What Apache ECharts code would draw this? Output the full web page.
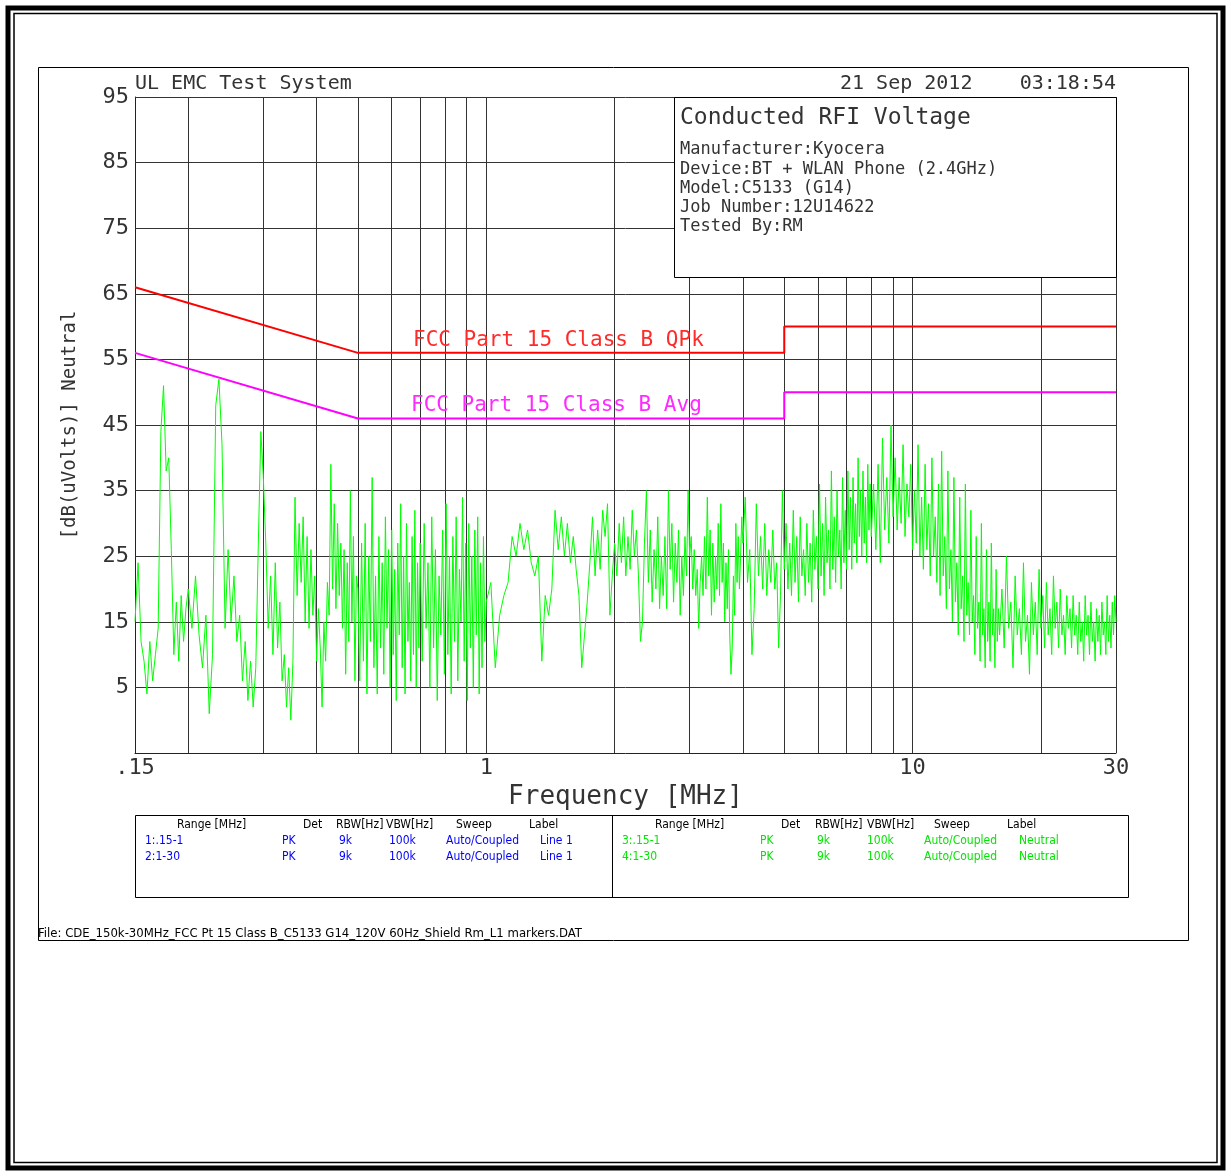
<!DOCTYPE html>
<html><head><meta charset="utf-8">
<script src="https://cdn.jsdelivr.net/npm/echarts@6/dist/echarts.min.js"></script>
<style>html,body{margin:0;padding:0;background:#fff}#chart{width:1231px;height:1176px}</style>
</head><body><div id="chart"></div>
<script>
const freqA = [0.15,0.1525,0.155,0.1575,0.16,0.1625,0.165,0.1675,0.17,0.1725,0.175,0.1775,0.18,0.1825,0.185,0.1875,0.19,0.1925,0.195,0.1975];
const levelA = [15,24,12,9,4,12,6,10,14,44,51,38,40,26,10,18,9,19,12,17];
const freqB = [0.200,0.204,0.208,0.212,0.216,0.220,0.224,0.228,0.232,0.236,0.240,0.244,0.248,0.252,0.256,0.260,0.264,0.268,0.272,0.276,0.280,0.284,0.288,0.292,0.296];
const levelB = [20,14,22,13,8,16,1,10,48,52,42,14,26,15,22,12,16,6,12,3,9,2,8,27,44];
const freqC = [0.300,0.304,0.308,0.312,0.316,0.320,0.324,0.328,0.332,0.336,0.340,0.344,0.348,0.352,0.356,0.360,0.364,0.368,0.372,0.376,
  0.380,0.384,0.388,0.392,0.396,0.400,0.404,0.408,0.412,0.416,0.420,0.424,0.428,0.432,0.436,0.440,0.444,0.448,0.452,0.456,
  0.460,0.464,0.468,0.472,0.476,0.480,0.484,0.488,0.492,0.496];
const levelC = [37,27,14,22,10,24,11,18,6,10, 2,8,0,9,34,19,30,21,31,15, 28,14,26,16,22,9,17,11,2,15, 9,21,16,39,20,33,17,30,19,27, 14,26,7,24,12,35,15,28,6,22];
const freqD = [0.500,0.505,0.510,0.515,0.520,0.525,0.530,0.535,0.540,0.545,0.550,0.555,0.560,0.565,0.570,0.575,0.580,0.585,0.590,0.595,
  0.600,0.605,0.610,0.615,0.620,0.625,0.630,0.635,0.640,0.645,0.650,0.655,0.660,0.665,0.670,0.675,0.680,0.685,0.690,0.695];
const levelD = [20,6,27,9,30,4,25,12,37,8, 22,4,28,11,24,7,31,14,26,5, 29,10,23,3,27,13,33,8,25,4, 30,12,21,6,28,10,32,5,24,11];
const freqE = [0.7000,0.7075,0.7150,0.7225,0.7300,0.7375,0.7450,0.7525,0.7600,0.7675,0.7750,0.7825,0.7900,0.7975,0.8050,0.8125,0.8200,0.8275,0.8350,0.8425,
  0.8500,0.8575,0.8650,0.8725,0.8800,0.8875,0.8950,0.9025,0.9100,0.9175,0.9250,0.9325,0.9400,0.9475,0.9550,0.9625,0.9700,0.9775,0.9850,0.9925];
const levelE = [27,9,30,14,24,5,31,11,26,3, 22,13,29,7,33,10,25,4,28,12, 31,6,23,15,34,9,27,3,30,11, 25,5,29,13,31,4,24,8,28,12];
const freqF = [1.000,1.025,1.050,1.075,1.100,1.125,1.150,1.175,1.200,1.225,1.250,1.275,1.300,1.325,1.350,1.375,1.400,1.425,1.450,1.475,
  1.500,1.525,1.550,1.575,1.600,1.625,1.650,1.675,1.700,1.725,1.750,1.775,1.800,1.825,1.850,1.875,1.900,1.925,1.950,1.975];
const levelF = [18,21,8,16,19,21,28,25,30,26, 29,24,22,25,9,19,16,20,32,26, 31,25,30,24,28,23,19,8,13,18, 24,31,22,29,23,32,28,33,16,22];
const freqG = [2.000,2.025,2.050,2.075,2.100,2.125,2.150,2.175,2.200,2.225,2.250,2.275,2.300,2.325,2.350,2.375,2.400,2.425,2.450,2.475,
  2.500,2.525,2.550,2.575,2.600,2.625,2.650,2.675,2.700,2.725,2.750,2.775,2.800,2.825,2.850,2.875,2.900,2.925,2.950,2.975,
  3.000,3.025,3.050,3.075,3.100,3.125,3.150,3.175,3.200,3.225,3.250,3.275,3.300,3.325,3.350,3.375,3.400,3.425,3.450,3.475,
  3.500,3.525,3.550,3.575,3.600,3.625,3.650,3.675,3.700,3.725,3.750,3.775,3.800,3.825,3.850,3.875,3.900,3.925,3.950,3.975];
const levelG = [27,22,30,24,31,22,28,23,32,25, 29,22,12,15,27,35,21,29,18,26, 20,31,17,25,19,28,17,35,23,30, 18,27,21,29,16,25,19,28,22,35,
  25,28,20,26,19,23,14,21,25,19, 28,20,34,22,29,16,27,18,25,20, 30,19,33,21,27,15,24,17,26,13, 7,11,22,16,30,21,28,20,25,31];
const freqH = [4.00,4.05,4.10,4.15,4.20,4.25,4.30,4.35,4.40,4.45,4.50,4.55,4.60,4.65,4.70,4.75,4.80,4.85,4.90,4.95,
  5.00,5.05,5.10,5.15,5.20,5.25,5.30,5.35,5.40,5.45,5.50,5.55,5.60,5.65,5.70,5.75,5.80,5.85,5.90,5.95,
  6.00,6.05,6.10,6.15,6.20,6.25,6.30,6.35,6.40,6.45,6.50,6.55,6.60,6.65,6.70,6.75,6.80,6.85,6.90,6.95,
  7.00,7.05,7.10,7.15,7.20,7.25,7.30,7.35,7.40,7.45,7.50,7.55,7.60,7.65,7.70,7.75,7.80,7.85,7.90,7.95];
const levelH = [27,34,21,26,10,17,33,22,28,20, 30,19,26,21,29,20,24,11,19,35, 23,30,20,27,19,32,21,28,18,31, 22,26,19,30,21,27,18,32,23,28,
  20,36,22,30,19,34,24,29,20,38, 23,31,21,35,25,29,20,37,24,32, 23,38,26,34,23,37,27,33,24,40, 28,35,25,38,27,34,24,39,29,36];
const freqI = [8.0,8.1,8.2,8.3,8.4,8.5,8.6,8.7,8.8,8.9,9.0,9.1,9.2,9.3,9.4,9.5,9.6,9.7,9.8,9.9,
  10.0,10.1,10.2,10.3,10.4,10.5,10.6,10.7,10.8,10.9,11.0,11.1,11.2,11.3,11.4,11.5,11.6,11.7,11.8,11.9,
  12.0,12.1,12.2,12.3,12.4,12.5,12.6,12.7,12.8,12.9,13.0,13.1,13.2,13.3,13.4,13.5,13.6,13.7,13.8,13.9,
  14.0,14.1,14.2,14.3,14.4,14.5,14.6,14.7,14.8,14.9,15.0,15.1,15.2,15.3,15.4,15.5,15.6,15.7,15.8,15.9];
const levelI = [28,36,26,39,24,43,29,37,27,45, 31,40,29,37,30,42,28,36,31,39, 26,35,27,42,25,34,23,39,26,33, 22,40,25,31,21,36,19,41,22,28,
  17,38,20,26,15,37,18,24,13,34, 17,22,12,36,16,21,13,32,15,19, 10,28,14,18,9,30,13,17,8,26, 12,18,9,27,13,17,8,23,12,17];
const freqJ = [16.0,16.2,16.4,16.6,16.8,17.0,17.2,17.4,17.6,17.8,18.0,18.2,18.4,18.6,18.8,19.0,19.2,19.4,19.6,19.8,
  20.0,20.2,20.4,20.6,20.8,21.0,21.2,21.4,21.6,21.8,22.0,22.2,22.4,22.6,22.8,23.0,23.2,23.4,23.6,23.8,
  24.0,24.2,24.4,24.6,24.8,25.0,25.2,25.4,25.6,25.8,26.0,26.2,26.4,26.6,26.8,27.0,27.2,27.4,27.6,27.8,
  28.0,28.2,28.4,28.6,28.8,29.0,29.2,29.4,29.6,29.8,30.0];
const levelJ = [13,20,11,25,14,18,8,22,13,17, 10,24,12,16,7,21,13,18,10,23, 14,19,11,21,13,17,10,22,14,18, 11,20,13,16,10,19,14,17,11,19,
  13,16,10,18,12,15,9,19,13,16, 10,18,12,15,9,17,12,16,10,18, 13,15,10,19,12,16,11,18,13,19,15];
// ---- Limit lines ----
const qpkLimitFreq  = [0.15, 0.5, 5, 5, 30];
const qpkLimitLevel = [66, 56, 56, 60, 60];
const avgLimitFreq  = [0.15, 0.5, 5, 5, 30];
const avgLimitLevel = [56, 46, 46, 50, 50];
// ---- Axes ----
const xTickLabels = [0.15, 1, 10, 30];
const yTickLabels = [5, 15, 25, 35, 45, 55, 65, 75, 85, 95];
const xGridFreqs = [0.2,0.3,0.4,0.5,0.6,0.7,0.8,0.9,1,2,3,4,5,6,7,8,9,10,20,30];
const yGridLevels = [5, 15, 25, 35, 45, 55, 65, 75, 85, 95];
// ---- Texts ----
const headerLeft = 'UL EMC Test System';
const headerDate = '21 Sep 2012';
const headerTime = '03:18:54';
const infoTitle = 'Conducted RFI Voltage';
const infoLines = ['Manufacturer:Kyocera', 'Device:BT + WLAN Phone (2.4GHz)', 'Model:C5133 (G14)', 'Job Number:12U14622', 'Tested By:RM'];
const qpkLabel = 'FCC Part 15 Class B QPk';
const avgLabel = 'FCC Part 15 Class B Avg';
const legendHeaders = ['Range [MHz]', 'Det', 'RBW[Hz]', 'VBW[Hz]', 'Sweep', 'Label'];
const legendRowsLine = [['1:.15-1','PK','9k','100k','Auto/Coupled','Line 1'], ['2:1-30','PK','9k','100k','Auto/Coupled','Line 1']];
const legendRowsNeutral = [['3:.15-1','PK','9k','100k','Auto/Coupled','Neutral'], ['4:1-30','PK','9k','100k','Auto/Coupled','Neutral']];
const fileLabel = 'File: CDE_150k-30MHz_FCC Pt 15 Class B_C5133 G14_120V 60Hz_Shield Rm_L1 markers.DAT';

// ---- Build ----
const MONO = "'DejaVu Sans Mono', monospace";
const COND = "'DejaVu Sans Condensed', 'Liberation Sans Narrow', sans-serif";
const zip = (a, b) => a.map((v, i) => [v, b[i]]);
const traceData = [].concat(
  zip(freqA, levelA), zip(freqB, levelB), zip(freqC, levelC), zip(freqD, levelD), zip(freqE, levelE),
  zip(freqF, levelF), zip(freqG, levelG), zip(freqH, levelH), zip(freqI, levelI), zip(freqJ, levelJ));

function txt(x, y, s, font, fill, align, va) {
  return { type: 'text', x: x, y: y, z: 100, silent: true,
    style: { text: s, font: font, fill: fill, align: align || 'left', verticalAlign: va || 'middle' } };
}
const graphics = [
  { type: 'rect', z: 90, silent: true, shape: { x: 8, y: 8, width: 1215, height: 1160 }, style: { fill: null, stroke: '#000', lineWidth: 5 } },
  { type: 'rect', z: 90, silent: true, shape: { x: 14, y: 13.5, width: 1203, height: 1149 }, style: { fill: null, stroke: '#000', lineWidth: 1.5 } },
  { type: 'rect', z: 90, silent: true, shape: { x: 38.5, y: 67.5, width: 1150, height: 873 }, style: { fill: null, stroke: '#000', lineWidth: 1 } },
  { type: 'rect', z: 99, silent: true, shape: { x: 674.5, y: 97.5, width: 442, height: 180 }, style: { fill: '#fff', stroke: '#000', lineWidth: 1 } },
  { type: 'rect', z: 90, silent: true, shape: { x: 135.5, y: 815.5, width: 993, height: 82 }, style: { fill: null, stroke: '#000', lineWidth: 1 } },
  { type: 'line', z: 90, silent: true, shape: { x1: 612.5, y1: 815.5, x2: 612.5, y2: 897.5 }, style: { stroke: '#000', lineWidth: 1 } },
  txt(135, 84, headerLeft, '20px ' + MONO, '#333'),
  txt(840, 84, headerDate, '20px ' + MONO, '#333'),
  txt(1116, 84, headerTime, '20px ' + MONO, '#333', 'right'),
  txt(680, 118, infoTitle, '23px ' + MONO, '#333'),
  txt(413, 341, qpkLabel, '21px ' + MONO, '#ff2a2a'),
  txt(411, 406, avgLabel, '21px ' + MONO, '#ff2aff'),
  txt(38, 934, fileLabel, '13px ' + COND, '#000')
];
infoLines.forEach((s, i) => graphics.push(txt(680, [150, 170, 189, 208, 227][i], s, '17px ' + MONO, '#333')));
const hdrXL = [177, 303, 336, 386, 456, 529], rowXL = [145, 282, 339, 389, 446, 540];
const hdrXR = [655, 781, 815, 867, 934, 1007], rowXR = [622, 760, 817, 867, 924, 1019];
legendHeaders.forEach((s, i) => {
  graphics.push(txt(hdrXL[i], 825, s, '12px ' + COND, '#000'));
  graphics.push(txt(hdrXR[i], 825, s, '12px ' + COND, '#000'));
});
legendRowsLine.forEach((row, r) => row.forEach((s, i) => graphics.push(txt(rowXL[i], 841 + 16 * r, s, '12px ' + COND, '#0000ff'))));
legendRowsNeutral.forEach((row, r) => row.forEach((s, i) => graphics.push(txt(rowXR[i], 841 + 16 * r, s, '12px ' + COND, '#00e600'))));

const gridMarks = xGridFreqs.map(v => ({ xAxis: v })).concat(yGridLevels.map(v => ({ yAxis: v })));

const chart = echarts.init(document.getElementById('chart'), null, { renderer: 'canvas' });
chart.setOption({
  animation: false,
  backgroundColor: '#fff',
  grid: { left: 135, right: 115, top: 97, bottom: 423, containLabel: false },
  xAxis: {
    type: 'log', logBase: 10, min: 0.15, max: 30,
    axisLine: { show: true, onZero: false, lineStyle: { color: '#222', width: 1 } },
    axisTick: { show: false }, splitLine: { show: false }, minorSplitLine: { show: false },
    axisLabel: { customValues: xTickLabels, margin: 4, color: '#333', fontFamily: 'DejaVu Sans Mono', fontSize: 22,
      formatter: v => (v < 1 ? '.15' : String(Math.round(v))) },
    name: 'Frequency [MHz]', nameLocation: 'middle', nameGap: 30,
    nameTextStyle: { fontFamily: 'DejaVu Sans Mono', fontSize: 26, color: '#333' }
  },
  yAxis: {
    type: 'value', min: -5, max: 95,
    axisLine: { show: true, onZero: false, lineStyle: { color: '#222', width: 1 } },
    axisTick: { show: false }, splitLine: { show: false },
    axisLabel: { customValues: yTickLabels, margin: 6, color: '#333', fontFamily: 'DejaVu Sans Mono', fontSize: 22 },
    name: '[dB(uVolts)] Neutral', nameLocation: 'middle', nameGap: 55, nameRotate: 90,
    nameTextStyle: { fontFamily: 'DejaVu Sans Mono', fontSize: 19, color: '#333' }
  },
  graphic: graphics,
  series: [
    { name: 'grid', type: 'line', data: [], z: 1, silent: true,
      markLine: { silent: true, z: 1, symbol: ['none', 'none'], label: { show: false }, animation: false,
        lineStyle: { color: '#333', width: 1, type: 'solid' }, emphasis: { disabled: true }, data: gridMarks } },
    { name: 'Neutral', type: 'line', data: traceData, z: 6, silent: true, symbol: 'none', showSymbol: false,
      lineStyle: { color: '#00ff00', width: 1 } },
    { name: 'QPk limit', type: 'line', data: zip(qpkLimitFreq, qpkLimitLevel), z: 7, silent: true, symbol: 'none',
      lineStyle: { color: '#ff0000', width: 2 } },
    { name: 'Avg limit', type: 'line', data: zip(avgLimitFreq, avgLimitLevel), z: 7, silent: true, symbol: 'none',
      lineStyle: { color: '#ff00ff', width: 2 } }
  ]
});
</script></body></html>
